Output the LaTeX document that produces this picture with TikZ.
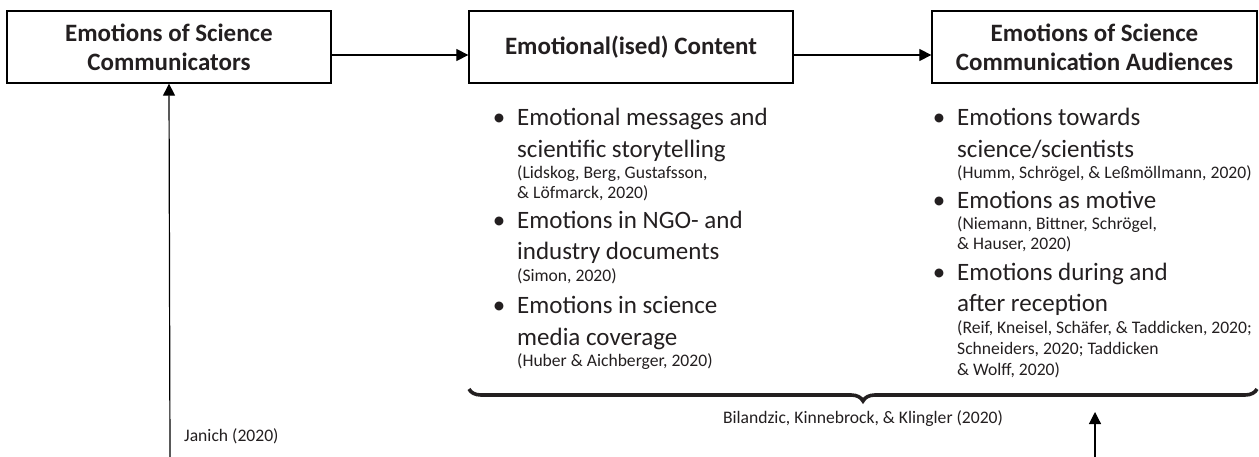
\documentclass[tikz,border=0pt]{standalone}
\usepackage{fontspec}
\setmainfont{Carlito}
\usetikzlibrary{arrows.meta,decorations.pathreplacing}
\definecolor{txt}{RGB}{35,31,32}
\tikzset{
  hbox/.style={draw=black, line width=1.3pt, minimum width=324pt, minimum height=72pt, align=center, inner sep=0pt, text=txt, font=\fontsize{25}{29}\selectfont\bfseries},
  arr/.style={line width=1.2pt, -{Triangle[length=12pt,width=12pt]}},
  bigtxt/.style={anchor=base west, inner sep=0pt, text=txt, font=\fontsize{25}{30}\selectfont},
  cite/.style={anchor=base west, inner sep=0pt, text=txt, font=\fontsize{17.6}{20}\selectfont},
  bul/.style={anchor=base, inner sep=0pt, text=txt, font=\fontsize{25}{30}\selectfont},
  midcite/.style={anchor=base, inner sep=0pt, text=txt, font=\fontsize{17.6}{20}\selectfont},
}
\begin{document}
\begin{tikzpicture}[x=1pt,y=-1pt]
\useasboundingbox (0,0) rectangle (1259,457);
% header boxes
\node[hbox] (b1) at (169,47) {Emotions of Science\\Communicators};
\node[hbox] (b2) at (631,47) {Emotional(ised) Content};
\node[hbox, minimum width=325pt] (b3) at (1094.5,47) {Emotions of Science\\Communication Audiences};
\draw[arr] ([yshift=-8pt]b1.east) -- ([yshift=-8pt]b2.west);
\draw[arr] ([yshift=-8pt]b2.east) -- ([yshift=-8pt]b3.west);
% left vertical arrow
\coordinate (j0) at (170,457);
\draw[arr] (j0) -- (b1.south);
\node[cite] (jan) at (184,441) {Janich (2020)};
% list 1
\node[bul] (u1) at (499,126) {•};
\node[bigtxt] (l1a) at (517,126) {Emotional messages and};
\node[bigtxt] (l1b) at (517,158) {scientific storytelling};
\node[cite] (l1c) at (517,179) {(Lidskog, Berg, Gustafsson,};
\node[cite] (l1d) at (517,199) {\& Löfmarck, 2020)};
\node[bul] (u2) at (499,229) {•};
\node[bigtxt] (l2a) at (517,229) {Emotions in NGO- and};
\node[bigtxt] (l2b) at (517,260) {industry documents};
\node[cite] (l2c) at (517,282) {(Simon, 2020)};
\node[bul] (u3) at (499,313) {•};
\node[bigtxt] (l3a) at (517,313) {Emotions in science};
\node[bigtxt] (l3b) at (517,345) {media coverage};
\node[cite] (l3c) at (517,366) {(Huber \& Aichberger, 2020)};
% list 2
\node[bul] (v1) at (939,126) {•};
\node[bigtxt] (m1a) at (957,126) {Emotions towards};
\node[bigtxt] (m1b) at (957,158) {science/scientists};
\node[cite] (m1c) at (957,179) {(Humm, Schrögel, \& Leßmöllmann, 2020)};
\node[bul] (v2) at (939,209) {•};
\node[bigtxt] (m2a) at (957,209) {Emotions as motive};
\node[cite] (m2b) at (957,230) {(Niemann, Bittner, Schrögel,};
\node[cite] (m2c) at (957,250) {\& Hauser, 2020)};
\node[bul] (v3) at (939,280) {•};
\node[bigtxt] (m3a) at (957,280) {Emotions during and};
\node[bigtxt] (m3b) at (957,312) {after reception};
\node[cite] (m3c) at (957,333) {(Reif, Kneisel, Schäfer, \& Taddicken, 2020;};
\node[cite] (m3d) at (957,354) {Schneiders, 2020; Taddicken};
\node[cite] (m3e) at (957,375) {\& Wolff, 2020)};
% brace
\coordinate (bl) at (469,389);
\coordinate (br) at (1257,389);
\draw[line width=3.6pt, color=txt, decorate, decoration={brace, mirror, amplitude=12pt}] (bl) -- (br);
\node[midcite] (bil) at (863,423) {Bilandzic, Kinnebrock, \& Klingler (2020)};
% right vertical arrow
\coordinate (t0) at (1095,457);
\coordinate (t1) at (1095,412);
\draw[arr] (t0) -- (t1);
\end{tikzpicture}
\end{document}
